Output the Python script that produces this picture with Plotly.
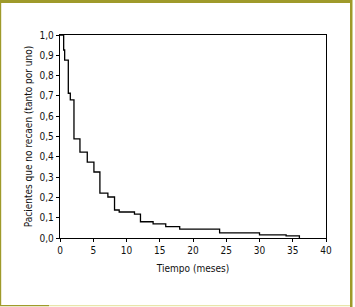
import plotly.graph_objects as go

# Kaplan-Meier style curve
meses = [0, 0.55, 0.7, 1.25, 1.55, 2.1, 3.0, 4.1, 5.1, 6.0, 7.2, 8.2, 8.9,
         11.2, 12.1, 14.0, 15.9, 18.0, 24.0, 30.0, 34.0, 36.0]
no_recaen = [1.0, 0.926, 0.876, 0.713, 0.68, 0.488, 0.423, 0.374, 0.325,
             0.221, 0.202, 0.138, 0.128, 0.118, 0.080, 0.070, 0.056, 0.044,
             0.025, 0.015, 0.010, 0.0]

x_ticks = [0, 5, 10, 15, 20, 25, 30, 35, 40]
y_ticks = [i / 10 for i in range(11)]

W, H = 355, 307
L, R, T, B = 60, 29, 35, 69
pw, ph = W - L - R, H - T - B

def px(x):
    return (x - L) / pw

def py(y):
    return (H - B - y) / ph

font = dict(family="DejaVu Sans Condensed, Liberation Sans Narrow, sans-serif",
            size=10, color="#111")

fig = go.Figure()
fig.add_trace(go.Scatter(x=meses, y=no_recaen, mode="lines", line_shape="hv",
                         line=dict(color="black", width=1.3), hoverinfo="skip"))

olive = "#9f9a2a"
light = "#e8e5aa"
fig.update_layout(
    width=W, height=H,
    margin=dict(l=L, r=R, t=T, b=B),
    paper_bgcolor="white", plot_bgcolor="white",
    showlegend=False, separators=",.",
    font=font,
    shapes=[
        # frame around the figure
        dict(type="rect", xref="paper", yref="paper", x0=px(0), x1=px(352), y0=py(-2), y1=py(3),
             fillcolor=olive, line_width=0, layer="above"),
        dict(type="rect", xref="paper", yref="paper", x0=px(0), x1=px(1.2), y0=py(0), y1=py(306),
             fillcolor=olive, line_width=0, layer="above"),
        dict(type="rect", xref="paper", yref="paper", x0=px(350), x1=px(352.5), y0=py(0), y1=py(307),
             fillcolor=olive, line_width=0, layer="above"),
        dict(type="rect", xref="paper", yref="paper", x0=px(0), x1=px(49), y0=py(305), y1=py(306.2),
             fillcolor=olive, line_width=0, layer="above"),
        dict(type="rect", xref="paper", yref="paper", x0=px(49), x1=px(350), y0=py(305), y1=py(306.2),
             fillcolor=light, line_width=0, layer="above"),
    ],
)
fig.update_xaxes(range=[0, 40], tickvals=x_ticks, ticks="outside", ticklen=3,
                 tickcolor="black", showline=True, linecolor="black", linewidth=1.3,
                 mirror=True, showgrid=False, zeroline=False,
                 title=dict(text="Tiempo (meses)", standoff=9, font=font))
fig.update_yaxes(range=[0, 1], tickvals=y_ticks, tickformat=".1f", ticks="outside",
                 ticklen=3, tickcolor="black", showline=True, linecolor="black",
                 linewidth=1.3, mirror=True, showgrid=False, zeroline=False,
                 title=dict(text="Pacientes que no recaen (tanto por uno)", standoff=5, font=font))

fig.write_html("out.html", config={"displayModeBar": False},
               post_script="document.body.style.margin='0';")
